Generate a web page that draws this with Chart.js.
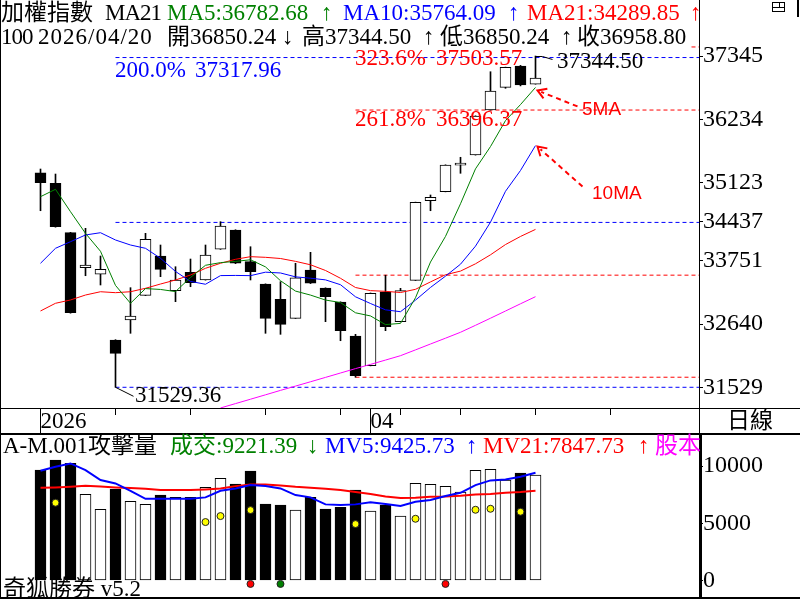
<!DOCTYPE html>
<html>
<head>
<meta charset="utf-8">
<title>加權指數</title>
<script src="https://cdn.jsdelivr.net/npm/chart.js@4/dist/chart.umd.min.js"></script>
<style>
  html, body { margin: 0; padding: 0; background: #fff; }
  #wrap { position: relative; width: 800px; height: 600px; overflow: hidden; background: #fff;
          font-family: "Liberation Serif", "Noto Sans CJK TC", serif; font-size: 23px; color: #000; }
  canvas { position: absolute; left: 0; }
  #priceChart { top: 0; }
  #volChart { top: 435px; }
  .t { position: absolute; white-space: nowrap; line-height: 23px; }
  .s { font-family: "Liberation Sans", sans-serif; font-size: 19px; line-height: 19px; }
  .ln { position: absolute; background: #000; }
  .g { color: #008000; } .b { color: #0000ff; } .r { color: #ff0000; } .m { color: #ff00ff; }
</style>
</head>
<body>
<div id="wrap">
  <canvas id="priceChart" width="800" height="433"></canvas>
  <canvas id="volChart" width="800" height="162"></canvas>

  <!-- frame -->
  <div class="ln" style="left:0;top:0;width:1px;height:599px"></div>
  <div class="ln" style="left:0;top:408px;width:800px;height:1px"></div>
  <div class="ln" style="left:0;top:433px;width:800px;height:2px"></div>
  <div class="ln" style="left:0;top:597px;width:800px;height:2px"></div>
  <div class="ln" style="left:699px;top:0;width:1px;height:433px"></div>
  <div class="ln" style="left:699px;top:433px;width:3px;height:166px"></div>
  <div class="ln" style="left:797px;top:0;width:2px;height:17px"></div>

  <!-- little window icon top right -->
  <div style="position:absolute;left:772px;top:2px;width:11px;height:8px;border:1px solid #000">
    <div class="ln" style="left:0;top:4px;width:11px;height:1px"></div>
    <div class="ln" style="left:6px;top:0;width:1px;height:4px"></div>
  </div>

  <!-- header row 1 -->
  <span class="t" style="left:1px;top:1px">加權指數</span>
  <span class="t" style="left:105px;top:1px;letter-spacing:-1px">MA21</span>
  <span class="t g" style="left:167px;top:1px">MA5:36782.68</span>
  <span class="t g" style="left:321px;top:1px">↑</span>
  <span class="t b" style="left:343px;top:1px">MA10:35764.09</span>
  <span class="t b" style="left:508px;top:1px">↑</span>
  <span class="t r" style="left:527px;top:1px">MA21:34289.85</span>
  <span class="t r" style="left:690px;top:1px">↑</span>

  <!-- header row 2 (opaque box like the original) -->
  <div style="position:absolute;left:1px;top:25px;width:688px;height:23px;background:#fff"></div>
  <span class="t" style="left:1px;top:25px;letter-spacing:-1px">100</span>
  <span class="t" style="left:38px;top:25px;letter-spacing:1px">2026/04/20</span>
  <span class="t" style="left:167px;top:25px">開36850.24</span>
  <span class="t" style="left:282px;top:25px">↓</span>
  <span class="t" style="left:302px;top:25px">高37344.50</span>
  <span class="t" style="left:423px;top:25px">↑</span>
  <span class="t" style="left:440px;top:25px">低36850.24</span>
  <span class="t" style="left:561px;top:25px">↑</span>
  <span class="t" style="left:577px;top:25px">收36958.80</span>

  <!-- fibonacci labels -->
  <span class="t b" style="left:115px;top:58px">200.0%</span>
  <span class="t b" style="left:195px;top:58px">37317.96</span>
  <span class="t r" style="left:355px;top:46px">323.6%</span>
  <span class="t r" style="left:436px;top:46px">37503.57</span>
  <span class="t r" style="left:355px;top:107px">261.8%</span>
  <span class="t r" style="left:436px;top:107px">36396.37</span>
  <span class="t" style="left:557px;top:49px">37344.50</span>
  <span class="t" style="left:135px;top:383px">31529.36</span>
  <span class="t s r" style="left:582px;top:99px">5MA</span>
  <span class="t s r" style="left:592px;top:183px">10MA</span>

  <span class="t" style="left:727px;top:409px">日線</span>

  <!-- volume header -->
  <span class="t" style="left:3px;top:434px">A-M.001攻擊量</span>
  <span class="t g" style="left:170px;top:434px">成交:9221.39</span>
  <span class="t g" style="left:307px;top:434px">↓</span>
  <span class="t b" style="left:325px;top:434px">MV5:9425.73</span>
  <span class="t b" style="left:466px;top:434px">↑</span>
  <span class="t r" style="left:483px;top:434px">MV21:7847.73</span>
  <span class="t r" style="left:638px;top:434px">↑</span>
  <span class="t m" style="left:655px;top:434px">股本</span>
  <span class="t" style="left:3px;top:577px">奇狐勝券 v5.2</span>
</div>

<script>
Chart.defaults.font.family = '"Liberation Serif", "Noto Sans CJK TC", serif';
Chart.defaults.color = '#000';

// daily candles, oldest first (last one is 2026/04/20)
const opens  = [35296, 35110, 34243, 33629, 33513, 32359, 32710, 33144, 33834, 33225,
                33548, 33413, 33952, 34290, 33734, 33342, 33074, 32740, 33588, 33272,
                33026, 32430, 31908, 33207, 32681, 33407, 34805, 34963, 35430, 35607,
                36397, 36795, 37169, 36850.24];
const highs  = [35361, 35273, 34250, 34320, 33834, 32365, 33278, 34232, 34027, 33646,
                33781, 34027, 34436, 34295, 33997, 33345, 33383, 33706, 33899, 33275,
                33030, 32459, 33185, 33497, 33267, 34780, 34905, 35435, 35567, 36295,
                37069, 37150, 37180, 37344.50];
const lows   = [34629, 34340, 32830, 33488, 33325, 31529.36, 32477, 33140, 33471, 33032,
                33295, 33410, 33950, 33700, 33413, 32477, 32459, 32738, 33350, 32681,
                32347, 31706, 31905, 32523, 32678, 33405, 34629, 34960, 35286, 35605,
                36395, 36778, 36820, 36850.24];
const closes = [35121, 34348, 32839, 33676, 33600, 32126, 32781, 34127, 33600, 33413,
                33365, 33852, 34361, 33706, 33558, 32740, 32635, 33453, 33355, 33120,
                32523, 31733, 33179, 32593, 33225, 34777, 34865, 35431, 35465, 36292,
                36731, 37147, 36836, 36958.80];

const ma5  = [34875, 35005, 34612, 34232, 33917, 33318, 33004, 33262, 33247, 33209,
              33457, 33671, 33718, 33739, 33768, 33643, 33400, 33218, 33148, 33061,
              33017, 32837, 32782, 32630, 32651, 33101, 33728, 34178, 34751, 35364,
              35755, 36211, 36492, 36793];
const ma10 = [33706, 33969, 34085, 34203, 34243, 34115, 34027, 33969, 33794, 33563,
              33388, 33338, 33490, 33493, 33489, 33550, 33536, 33468, 33444, 33415,
              33330, 33118, 33000, 32889, 32856, 33059, 33282, 33480, 33690, 34007,
              34428, 34970, 35335, 35772];
const ma21 = [32869, 33004, 33062, 33149, 33207, 33190, 33207, 33267, 33342, 33413,
              33500, 33618, 33706, 33776, 33822, 33811, 33790, 33740, 33680, 33580,
              33443, 33281, 33226, 33214, 33193, 33249, 33379, 33505, 33569, 33697,
              33855, 34035, 34177, 34301];
const maLong = [null, null, null, null, null, null, null, null, null, null,
                null, null, 31166, 31243, 31320, 31397, 31475, 31550, 31626, 31703,
                31780, 31857, 31931, 32007, 32084, 32186, 32289, 32391, 32495, 32617,
                32742, 32868, 32995, 33120];

const priceTicks = [31529, 32640, 33751, 34437, 35123, 36234, 37345];
const blueFib = [37317.96, 34423.66, 31529.36];
const blueFibFrom = 5;
const redFib = [37503.57, 36396.37, 33497.60, 31706.00];
const redFibFrom = 21;

const dateTickPos  = [0, 5, 10, 15, 20, 22, 24, 28, 33, 38];
const dateTickText = ['2026', '', '', '', '', '04', '', '', '', ''];

const volumes = [9658, 10532, 10243, 7534, 6223, 7997, 6922, 6660, 7473, 7272,
                 7272, 8146, 8932, 8434, 9570, 6686, 6599, 6162, 7272, 6249,
                 6398, 7910, 6074, 6599, 5637, 8495, 8408, 8233, 7735, 9631,
                 9719, 8784, 9396, 9221.39];
const mv5  = [9597, 9946, 10243, 9658, 8784, 8495, 7849, 7150, 7150, 7150,
              7150, 7272, 7849, 8058, 8347, 8259, 8058, 7473, 7272, 6660,
              6599, 6660, 6835, 6686, 6511, 6887, 7036, 7385, 7674, 8347,
              8757, 8845, 9072, 9425.73];
const mv21 = [8111, 8140, 8198, 8285, 8227, 8140, 8082, 8024, 7910, 7910,
              7910, 7968, 8053, 8257, 8402, 8402, 8315, 8198, 8111, 8024,
              7910, 7735, 7560, 7356, 7210, 7240, 7327, 7356, 7415, 7531,
              7560, 7677, 7735, 7847.73];
const volTicks = [0, 2500, 5000, 7500, 10000, 12500];
const yellowIdx = [1, 11, 12, 14, 21, 25, 29, 30, 32];
const yellowVal = [6800, 5113, 5637, 6162, 4938, 5401, 6188, 6275, 6013];
const redDotIdx = [14, 27];
const greenDotIdx = [16];
const dotLevel = -300;

const xMin = -2.6333, xMax = 43.9;

const pts = arr => arr.map((v, i) => ({ x: i, y: v }));
const isUp = closes.map((c, i) => c >= opens[i]);
const fillOf = isUp.map(u => u ? '#ffffff' : '#000000');

function fibLine(v, from, color) {
    return {
        type: 'line', data: [{ x: from, y: v }, { x: xMax, y: v }],
        borderColor: color, borderWidth: 1, borderDash: [4, 3],
        pointRadius: 0, order: 3
    };
}

function maLine(arr, color) {
    return {
        type: 'line', data: pts(arr), borderColor: color, borderWidth: 1,
        pointRadius: 0, tension: 0, order: 0
    };
}

function drawArrow(ctx, tx, ty, dx, dy) {
    const a = Math.atan2(dy, dx);
    ctx.strokeStyle = '#ff0000';
    ctx.lineWidth = 2;
    ctx.setLineDash([5, 4]);
    ctx.beginPath();
    ctx.moveTo(tx + dx, ty + dy);
    ctx.lineTo(tx + 4 * Math.cos(a), ty + 4 * Math.sin(a));
    ctx.stroke();
    ctx.setLineDash([]);
    ctx.beginPath();
    ctx.moveTo(tx + 10 * Math.cos(a - 0.55), ty + 10 * Math.sin(a - 0.55));
    ctx.lineTo(tx, ty);
    ctx.lineTo(tx + 10 * Math.cos(a + 0.55), ty + 10 * Math.sin(a + 0.55));
    ctx.stroke();
}

const priceMarks = {
    id: 'priceMarks',
    afterDatasetsDraw(chart) {
        const { ctx, scales: { x, y } } = chart;
        const last = closes.length - 1;
        const lowIdx = lows.indexOf(Math.min(...lows));
        ctx.save();
        ctx.strokeStyle = '#000';
        ctx.lineWidth = 1;
        // leader to the low label
        let px = x.getPixelForValue(lowIdx), py = y.getPixelForValue(lows[lowIdx]);
        ctx.beginPath(); ctx.moveTo(px, py); ctx.lineTo(px + 18, py + 9); ctx.stroke();
        // leader to the last high label
        px = x.getPixelForValue(last); py = Math.round(y.getPixelForValue(highs[last])) + 0.5;
        ctx.beginPath(); ctx.moveTo(px, py); ctx.lineTo(px + 7, py); ctx.lineTo(px + 17, py + 3); ctx.stroke();
        // dashed arrows at the ends of MA5 / MA10
        drawArrow(ctx, px + 2, y.getPixelForValue(ma5[last]) + 3, 40, 16);
        drawArrow(ctx, px + 2, y.getPixelForValue(ma10[last]) + 1, 45, 40);
        ctx.restore();
    },
    afterDraw(chart) {
        // year / month separators in the date strip
        const { ctx, scales: { x }, chartArea } = chart;
        ctx.save();
        ctx.fillStyle = '#000';
        dateTickPos.forEach((v, i) => {
            if (!dateTickText[i]) return;
            const px = Math.round(x.getPixelForValue(v) - 0.5);
            ctx.fillRect(px, chartArea.bottom, 1, chart.height - chartArea.bottom);
        });
        ctx.restore();
    }
};

new Chart(document.getElementById('priceChart'), {
    type: 'bar',
    data: {
        datasets: [
            maLine(ma5, '#008000'),
            maLine(ma10, '#0000ff'),
            maLine(ma21, '#ff0000'),
            maLine(maLong, '#ff00ff'),
            {
                type: 'bar', label: 'body',
                data: opens.map((o, i) => ({ x: i, y: [o, closes[i]] })),
                backgroundColor: fillOf, borderColor: '#000', borderWidth: 1,
                borderSkipped: false, barThickness: 11, grouped: false, order: 1
            },
            {
                type: 'bar', label: 'wick',
                data: lows.map((l, i) => ({ x: i, y: [l, highs[i]] })),
                backgroundColor: '#000', borderWidth: 0,
                barThickness: 1, grouped: false, order: 2
            },
            ...blueFib.map(v => fibLine(v, blueFibFrom, '#0000ff')),
            ...redFib.map(v => fibLine(v, redFibFrom, '#ff0000'))
        ]
    },
    options: {
        responsive: false,
        animation: false,
        events: [],
        layout: { autoPadding: false, padding: { left: 1, top: 0, right: 0, bottom: 0 } },
        plugins: { legend: { display: false }, tooltip: { enabled: false } },
        scales: {
            x: {
                type: 'linear', min: xMin, max: xMax, offset: false,
                afterBuildTicks: s => { s.ticks = dateTickPos.map(v => ({ value: v })); },
                afterFit: s => { s.height = 25; s.paddingLeft = 0; s.paddingRight = 0; },
                grid: { offset: false, drawOnChartArea: false, drawTicks: true, tickLength: 7, color: '#000' },
                border: { display: false },
                ticks: {
                    align: 'start', padding: -7, maxRotation: 0, autoSkip: false,
                    font: { size: 23 },
                    callback: v => dateTickText[dateTickPos.indexOf(v)] || ''
                }
            },
            y: {
                position: 'right', min: 31165.7, max: 38328.1,
                afterBuildTicks: s => { s.ticks = priceTicks.map(v => ({ value: v })); },
                afterFit: s => { s.width = 101; s.paddingTop = 0; s.paddingBottom = 0; },
                grid: { drawOnChartArea: false, drawTicks: true, tickLength: 4, color: '#000' },
                border: { display: false },
                ticks: { padding: 0, font: { size: 24 }, callback: v => String(v) }
            }
        }
    },
    plugins: [priceMarks]
});

function dots(idx, vals, fill) {
    return {
        type: 'line', showLine: false,
        data: idx.map((i, k) => ({ x: i, y: Array.isArray(vals) ? vals[k] : vals })),
        pointRadius: 3.5, pointBackgroundColor: fill, pointBorderColor: '#222',
        pointBorderWidth: 1, order: -1
    };
}

new Chart(document.getElementById('volChart'), {
    type: 'bar',
    data: {
        datasets: [
            dots(yellowIdx, yellowVal, '#ffff00'),
            dots(redDotIdx, dotLevel, '#ff0000'),
            dots(greenDotIdx, dotLevel, '#008000'),
            { type: 'line', data: pts(mv5), borderColor: '#0000ff', borderWidth: 2, pointRadius: 0, order: 0 },
            { type: 'line', data: pts(mv21), borderColor: '#ff0000', borderWidth: 2, pointRadius: 0, order: 0 },
            {
                type: 'bar', data: pts(volumes),
                backgroundColor: fillOf, borderColor: '#000', borderWidth: 1,
                borderSkipped: false, barThickness: 11, grouped: false, order: 1
            }
        ]
    },
    options: {
        responsive: false,
        animation: false,
        events: [],
        layout: { autoPadding: false, padding: { left: 1, top: 0, right: 0, bottom: 0 } },
        plugins: { legend: { display: false }, tooltip: { enabled: false } },
        scales: {
            x: { type: 'linear', min: xMin, max: xMax, offset: false, display: false, grid: { offset: false } },
            y: {
                position: 'right', min: -1444, max: 12730,
                afterBuildTicks: s => { s.ticks = volTicks.map(v => ({ value: v })); },
                afterFit: s => { s.width = 101; s.paddingTop = 0; s.paddingBottom = 0; },
                grid: { drawOnChartArea: false, drawTicks: true, tickLength: 4, color: '#000' },
                border: { display: false },
                ticks: { padding: 0, font: { size: 24 }, callback: v => (v % 5000 === 0 ? String(v) : '') }
            }
        }
    }
});
</script>
</body>
</html>
